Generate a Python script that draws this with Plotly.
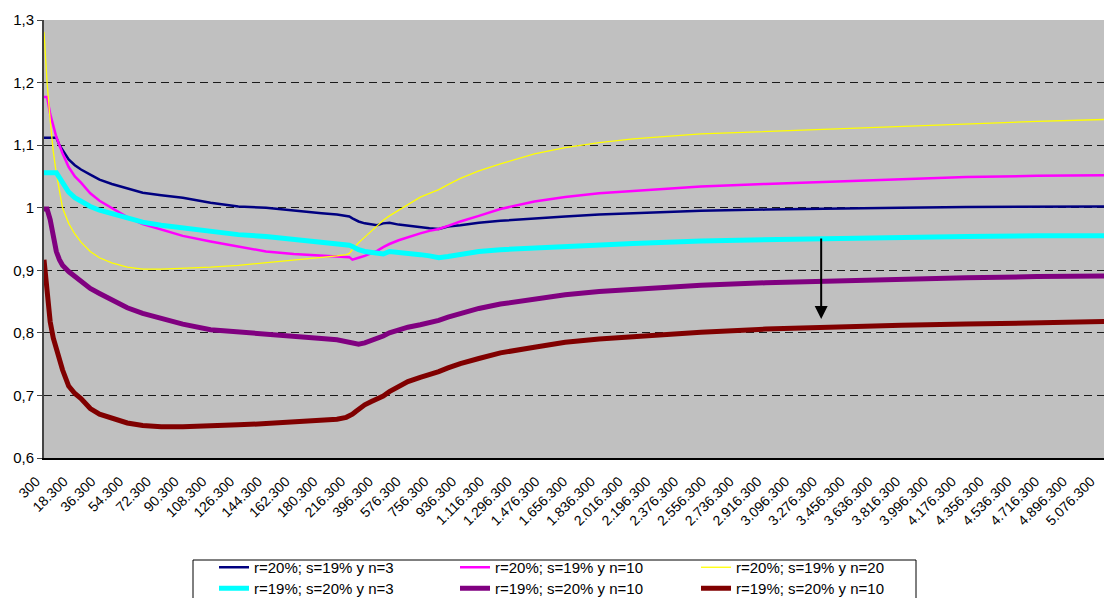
import plotly.graph_objects as go

def fmt(v):
    return f"{v:,}".replace(",", ".")

# Category axis (step 2.000 up to 196.300, then step 20.000)
CATEGORIES = [fmt(v) for v in list(range(300, 198300, 2000)) + list(range(216300, 5156301, 20000))]

TICK_LABELS = ["300", "18.300", "36.300", "54.300", "72.300", "90.300", "108.300", "126.300",
               "144.300", "162.300", "180.300", "216.300", "396.300", "576.300", "756.300",
               "936.300", "1.116.300", "1.296.300", "1.476.300", "1.656.300", "1.836.300",
               "2.016.300", "2.196.300", "2.376.300", "2.556.300", "2.736.300", "2.916.300",
               "3.096.300", "3.276.300", "3.456.300", "3.636.300", "3.816.300", "3.996.300",
               "4.176.300", "4.356.300", "4.536.300", "4.716.300", "4.896.300", "5.076.300"]

X_SAMPLES = [300, 2300, 4300, 6300, 8300, 10300, 12300, 16300, 20300, 24300,
             30300, 36300, 44300, 54300, 64300, 76300, 90300, 108300, 126300, 144300,
             162300, 180300, 190300, 196300, 216300, 236300, 256300, 276300, 316300, 356300,
             396300, 436300, 476300, 536300, 596300, 676300, 736300, 796300, 856300, 936300,
             1056300, 1196300, 1416300, 1616300, 1836300, 2056300, 2496300, 2916300, 3356300, 3796300,
             4216300, 4676300, 5116300]

NAVY = [1.112, 1.112, 1.112, 1.112, 1.112, 1.100, 1.093, 1.077, 1.068, 1.061,
        1.053, 1.045, 1.038, 1.031, 1.024, 1.020, 1.016, 1.008, 1.002, 1.000,
        0.995, 0.991, 0.989, 0.987, 0.986, 0.983, 0.980, 0.978, 0.975, 0.973,
        0.972, 0.975, 0.976, 0.973, 0.971, 0.968, 0.967, 0.966, 0.970, 0.972,
        0.976, 0.979, 0.983, 0.986, 0.989, 0.991, 0.995, 0.997, 0.999, 1.000,
        1.001, 1.001, 1.002]

PINK = [1.177, 1.177, 1.150, 1.130, 1.113, 1.100, 1.087, 1.065, 1.050, 1.040,
        1.023, 1.011, 0.999, 0.985, 0.974, 0.965, 0.955, 0.946, 0.938, 0.930,
        0.926, 0.923, 0.922, 0.921, 0.921, 0.917, 0.918, 0.920, 0.923, 0.927,
        0.931, 0.937, 0.942, 0.948, 0.953, 0.959, 0.963, 0.966, 0.971, 0.978,
        0.987, 0.998, 1.010, 1.017, 1.023, 1.027, 1.034, 1.038, 1.042, 1.046,
        1.049, 1.051, 1.052]

YELLOW = [1.281, 1.200, 1.140, 1.090, 1.055, 1.025, 1.000, 0.975, 0.958, 0.945,
          0.930, 0.920, 0.912, 0.905, 0.902, 0.902, 0.903, 0.905, 0.908, 0.912,
          0.917, 0.921, 0.923, 0.925, 0.927, 0.933, 0.939, 0.944, 0.953, 0.962,
          0.970, 0.980, 0.987, 0.996, 1.005, 1.017, 1.023, 1.029, 1.037, 1.047,
          1.059, 1.070, 1.086, 1.096, 1.104, 1.110, 1.118, 1.122, 1.126, 1.130,
          1.134, 1.138, 1.141]

CYAN = [1.056, 1.056, 1.056, 1.056, 1.056, 1.048, 1.040, 1.025, 1.016, 1.010,
        1.002, 0.996, 0.991, 0.985, 0.977, 0.972, 0.968, 0.962, 0.957, 0.954,
        0.949, 0.945, 0.943, 0.941, 0.940, 0.938, 0.935, 0.933, 0.930, 0.928,
        0.926, 0.926, 0.930, 0.929, 0.927, 0.925, 0.923, 0.920, 0.922, 0.926,
        0.930, 0.933, 0.936, 0.938, 0.941, 0.943, 0.947, 0.949, 0.951, 0.953,
        0.954, 0.955, 0.955]

PURPLE = [0.998, 0.998, 0.981, 0.950, 0.930, 0.917, 0.908, 0.898, 0.890, 0.882,
          0.871, 0.863, 0.852, 0.840, 0.831, 0.823, 0.814, 0.805, 0.801, 0.799,
          0.794, 0.791, 0.789, 0.786, 0.785, 0.782, 0.781, 0.782, 0.784, 0.787,
          0.790, 0.795, 0.800, 0.805, 0.809, 0.813, 0.816, 0.820, 0.825, 0.831,
          0.839, 0.846, 0.854, 0.861, 0.866, 0.870, 0.876, 0.880, 0.883, 0.886,
          0.888, 0.890, 0.891]

RED = [0.917, 0.860, 0.818, 0.792, 0.773, 0.756, 0.741, 0.715, 0.703, 0.695,
       0.679, 0.670, 0.663, 0.656, 0.652, 0.650, 0.650, 0.651, 0.653, 0.655,
       0.657, 0.660, 0.662, 0.665, 0.667, 0.670, 0.674, 0.678, 0.685, 0.690,
       0.694, 0.699, 0.706, 0.715, 0.722, 0.729, 0.733, 0.738, 0.744, 0.751,
       0.759, 0.768, 0.777, 0.785, 0.790, 0.794, 0.801, 0.806, 0.810, 0.812,
       0.814, 0.816, 0.818]

SERIES = [
    ("r=20%; s=19% y n=3", NAVY, "#000080", 2.5, "legend"),
    ("r=20%; s=19% y n=10", PINK, "#FF00FF", 2.5, "legend"),
    ("r=20%; s=19% y n=20", YELLOW, "#FFFF00", 1.3, "legend"),
    ("r=19%; s=20% y n=3", CYAN, "#00FFFF", 5, "legend2"),
    ("r=19%; s=20% y n=10", PURPLE, "#800080", 5, "legend2"),
    ("r=19%; s=20% y n=10", RED, "#800000", 5, "legend2"),
]

ARROW_CAT = "3.276.300"
ARROW_FROM = 0.953
ARROW_TO = 0.822

x_labels = [fmt(v) for v in X_SAMPLES]

fig = go.Figure()
for name, vals, color, w, lg in SERIES:
    fig.add_trace(go.Scatter(x=x_labels, y=vals, mode="lines", name=name,
                             line=dict(color=color, width=w), legend=lg))

ai = CATEGORIES.index(ARROW_CAT)
fig.add_annotation(x=ai, y=ARROW_TO, ax=ai, ay=ARROW_FROM, xref="x", yref="y",
                   axref="x", ayref="y", text="", showarrow=True,
                   arrowhead=2, arrowsize=1.3, arrowwidth=2, arrowcolor="#000000")

L, T, PW, PH = 44, 20, 1104 - 44, 438

def px_x(p):
    return (p - L) / PW

def px_y(p):
    return (T + PH - p) / PH

# legend frame
fig.add_shape(type="rect", xref="paper", yref="paper",
              x0=px_x(193), x1=px_x(916), y0=px_y(560), y1=px_y(640),
              line=dict(color="#000000", width=1), fillcolor="white", layer="above")

legend_common = dict(orientation="h", xanchor="left", yanchor="top",
                     bgcolor="rgba(0,0,0,0)", borderwidth=0,
                     entrywidth=196, entrywidthmode="pixels",
                     font=dict(size=15), itemclick=False, tracegroupgap=0)

fig.update_layout(
    width=1104, height=598,
    margin=dict(l=L, r=0, t=T, b=598 - T - PH, autoexpand=False),
    paper_bgcolor="white", plot_bgcolor="#C0C0C0",
    separators=",.",
    font=dict(family="Liberation Sans, Arial, sans-serif", size=15, color="#000000"),
    showlegend=True,
    legend=dict(x=px_x(214), y=px_y(551), **legend_common),
    legend2=dict(x=px_x(214), y=px_y(572), **legend_common),
)
fig.update_xaxes(
    type="category", categoryorder="array", categoryarray=CATEGORIES,
    range=[0, PW / 3.084], tickmode="array", tickvals=TICK_LABELS, ticktext=TICK_LABELS,
    tickangle=-45, tickfont=dict(size=14), showgrid=False, zeroline=False,
    showline=True, linecolor="#000000", linewidth=1.5, ticks="", automargin=False,
    ticklabelstandoff=8, ticklabelshift=-8,
)
fig.update_yaxes(
    range=[0.6, 1.3], tickmode="linear", tick0=0.6, dtick=0.1,
    showgrid=True, gridcolor="#1a1a1a", gridwidth=1, griddash="8px,5px",
    zeroline=False, showline=True, linecolor="#444444", linewidth=2,
    ticks="outside", ticklen=5, tickcolor="#444444", tickfont=dict(size=15),
    automargin=False,
)

fig.write_html("out.html", config={"displayModeBar": False},
               post_script="document.body.style.margin='0px';document.body.style.overflow='hidden';")
